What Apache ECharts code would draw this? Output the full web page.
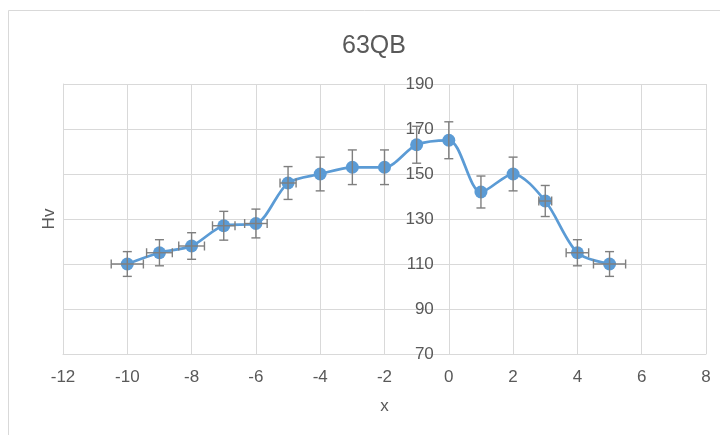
<!DOCTYPE html>
<html>
<head>
<meta charset="utf-8">
<script src="https://cdn.jsdelivr.net/npm/echarts@6/dist/echarts.min.js"></script>
<style>html,body{margin:0;padding:0;background:#fff}#c{width:720px;height:435px}</style>
</head>
<body>
<div id="c"></div>
<script>
var xValues = [-10, -9, -8, -7, -6, -5, -4, -3, -2, -1, 0, 1, 2, 3, 4, 5];
var hvValues = [110, 115, 118, 127, 128, 146, 150, 153, 153, 163, 165, 142, 150, 138, 115, 110];
var yErrors = [5.5, 5.8, 5.9, 6.4, 6.4, 7.3, 7.5, 7.7, 7.7, 8.2, 8.2, 7.1, 7.5, 6.9, 5.8, 5.5];
var xErrors = [0.5, 0.4, 0.4, 0.35, 0.35, 0.25, 0, 0, 0, 0, 0, 0, 0, 0.2, 0.35, 0.5];
var xTicks = [-12, -10, -8, -6, -4, -2, 0, 2, 4, 6, 8];
var yTicks = [70, 90, 110, 130, 150, 170, 190];

var FONT = "'Liberation Sans', Arial, sans-serif";
var TXT = '#595959';
var GRID = '#d9d9d9';

var GRID_LEFT = 63, GRID_RIGHT = 14;
var plotW = 720 - GRID_LEFT - GRID_RIGHT;
var xMin = xTicks[0], xMax = xTicks[xTicks.length - 1];
// y axis crosses at x = 0
var yAxisOffset = -plotW * (0 - xMin) / (xMax - xMin);

var lineData = xValues.map(function (x, i) { return [x, hvValues[i]]; });
var errData = xValues.map(function (x, i) { return [x, hvValues[i], yErrors[i], xErrors[i]]; });

var chart = echarts.init(document.getElementById('c'), null, { renderer: 'canvas' });
chart.setOption({
  animation: false,
  backgroundColor: '#fff',
  title: {
    text: '63QB', left: 369, top: 29, textAlign: 'center',
    textStyle: { fontFamily: FONT, fontSize: 25, fontWeight: 'normal', color: TXT }
  },
  graphic: [
    { type: 'line', shape: { x1: 8.5, y1: 10.5, x2: 730, y2: 10.5 }, style: { stroke: '#d9d9d9', lineWidth: 1 } },
    { type: 'line', shape: { x1: 8.5, y1: 10.5, x2: 8.5, y2: 440 }, style: { stroke: '#d9d9d9', lineWidth: 1 } }
  ],
  grid: { left: GRID_LEFT, right: GRID_RIGHT, top: 84, bottom: 81, containLabel: false, outerBoundsMode: 'none' },
  xAxis: {
    type: 'value', min: xMin, max: xMax, interval: 2,
    name: 'x', nameLocation: 'middle', nameGap: 44,
    nameTextStyle: { fontFamily: FONT, fontSize: 17, color: TXT },
    axisLine: { onZero: false, lineStyle: { color: GRID, width: 1 } },
    axisTick: { show: false },
    axisLabel: { margin: 15, fontFamily: FONT, fontSize: 17, color: TXT },
    splitLine: { show: true, lineStyle: { color: GRID, width: 1 } }
  },
  yAxis: [
    {
      type: 'value', min: yTicks[0], max: yTicks[yTicks.length - 1], interval: 20,
      name: 'Hv', nameLocation: 'middle', nameRotate: 90, nameGap: 5,
      nameTextStyle: { fontFamily: FONT, fontSize: 17, color: TXT },
      axisLine: { show: true, onZero: false, lineStyle: { color: GRID, width: 1 } },
      axisTick: { show: false },
      axisLabel: { show: false },
      splitLine: { show: true, lineStyle: { color: GRID, width: 1 } }
    },
    {
      type: 'value', min: yTicks[0], max: yTicks[yTicks.length - 1], interval: 20,
      position: 'left', offset: yAxisOffset,
      axisLine: { show: false, onZero: false },
      axisTick: { show: false },
      axisLabel: { margin: 15, fontFamily: FONT, fontSize: 17, color: TXT },
      splitLine: { show: false }
    }
  ],
  series: [
    {
      type: 'line', data: lineData, smooth: 0.3,
      symbol: 'circle', symbolSize: 13,
      lineStyle: { color: '#5b9bd5', width: 2.75 },
      itemStyle: { color: '#5b9bd5' },
      z: 2
    },
    {
      type: 'custom', data: errData, z: 3,
      renderItem: function (params, api) {
        var x = api.value(0), y = api.value(1), ey = api.value(2), ex = api.value(3);
        var top = api.coord([x, y + ey]);
        var bot = api.coord([x, y - ey]);
        var lft = api.coord([x - ex, y]);
        var rgt = api.coord([x + ex, y]);
        var cap = 4.5;
        var st = { stroke: '#7f7f7f', lineWidth: 1.4 };
        var ch = [
          { type: 'line', shape: { x1: top[0], y1: top[1], x2: bot[0], y2: bot[1] }, style: st },
          { type: 'line', shape: { x1: top[0] - cap, y1: top[1], x2: top[0] + cap, y2: top[1] }, style: st },
          { type: 'line', shape: { x1: bot[0] - cap, y1: bot[1], x2: bot[0] + cap, y2: bot[1] }, style: st }
        ];
        if (ex > 0) {
          ch.push({ type: 'line', shape: { x1: lft[0], y1: lft[1], x2: rgt[0], y2: rgt[1] }, style: st });
          ch.push({ type: 'line', shape: { x1: lft[0], y1: lft[1] - cap, x2: lft[0], y2: lft[1] + cap }, style: st });
          ch.push({ type: 'line', shape: { x1: rgt[0], y1: rgt[1] - cap, x2: rgt[0], y2: rgt[1] + cap }, style: st });
        }
        return { type: 'group', children: ch };
      }
    }
  ]
});
</script>
</body>
</html>
